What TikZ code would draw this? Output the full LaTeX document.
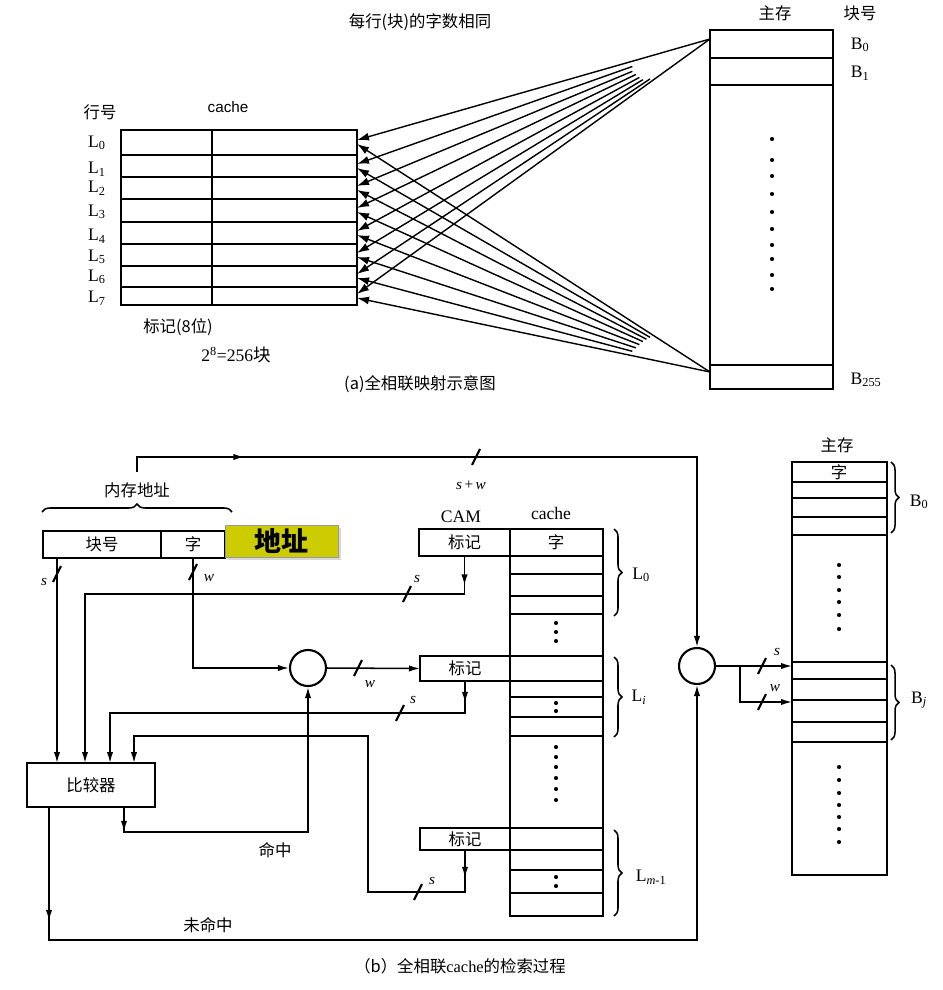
\documentclass[tikz,border=0pt]{standalone}
\usepackage{fontspec}
\setmainfont{Liberation Serif}
\newfontfamily\cjk{Noto Sans CJK SC}
\newfontfamily\sanslat{Liberation Sans}
\usetikzlibrary{arrows.meta,calc,decorations.pathreplacing,decorations.markings,shadows}
\definecolor{addrYellow}{RGB}{204,204,0}

\tikzset{
  sz/.style 2 args={minimum width={#1*0.03cm}, minimum height={#2*0.03cm}},
  frame/.style={draw, line width=2.5pt, inner sep=0pt, outer sep=0pt},
  rowline/.style={line width=2.3pt},
  sig/.style={line width=1.3pt},
  arrowend/.style={-{Latex[length=3.3mm,width=1.9mm]}},
  marr/.style={postaction={decorate}, decoration={markings,
      mark=at position #1 with {\arrow{Latex[length=3.3mm,width=1.9mm]}}}},
  fan/.style={{Latex[length=3.6mm,width=2.4mm]}-, line width=1.2pt},
  busmark/.style={line width=1.8pt},
  zh/.style={font=\cjk\fontsize{14}{16}\selectfont},
  lab/.style={font=\fontsize{15}{17}\selectfont},
  var/.style={font=\itshape\fontsize{13}{15}\selectfont},
  brc/.style={decorate, decoration={brace, amplitude=2.4mm}, line width=1.3pt},
  dot/.style={circle, fill, inner sep=0pt, minimum size=3.5pt},
}

\begin{document}
\begin{tikzpicture}[x=0.03cm, y=-0.03cm]
    \useasboundingbox (0,0) rectangle (942,990);

    % ---------- (a) mapping ----------
    \node[zh] (ttl) at (420,22) {每行(块)的字数相同};
    \node[zh] (hh) at (100,112) {行号};
    \node[font=\sanslat\fontsize{13}{15}\selectfont] (cc) at (228,107) {cache};

    % cache lines
    \node[frame, sz={236}{175}, anchor=north west] (ca) at (121,130) {};
    \foreach \y in {155,177,199,222,244,266,287}
        \draw[rowline] (121,\y) -- (357,\y);
    \draw[rowline] (212,130) -- (212,305);
    \foreach \y [count=\i from 0] in {143,169,188,212,236,257,277,298}
        \node[lab, anchor=west] (lr\i) at (84,\y) {L\textsubscript{\i}};
    \node[zh] (tg) at (178,327) {标记(8位)};
    \node[lab] (nb) at (236,355) {2\textsuperscript{8}=256{\cjk 块}};
    \node[zh] (capa) at (420,384) {(a)全相联映射示意图};

    % main memory
    \node[zh] (mmh) at (775,13) {主存};
    \node[zh] (bnh) at (860,13) {块号};
    \node[frame, sz={123}{359}, anchor=north west] (mma) at (710,30) {};
    \foreach \y in {58,85,365}
        \draw[rowline] (710,\y) -- (833,\y);
    \foreach \y in {139,160,176,194,212,229,245,259,275,289}
        \node[dot] at (772,\y) {};
    \node[lab] (lb0) at (860,45) {B\textsubscript{0}};
    \node[lab] (lb1) at (860,73) {B\textsubscript{1}};
    \node[lab] (lb255) at (866,380) {B\textsubscript{255}};

    % fan of arrows
    \coordinate (b0a) at (710,39);
    \coordinate (b255a) at (710,372);
    \foreach \y [count=\i from 0] in {142,166,188,210,233,255,276,296} {
        \coordinate (ru\i) at (357,\y-2);
        \coordinate (rd\i) at (357,\y+2);
    }
    \foreach \i/\fu/\fd in {0/1/1, 1/.78/.83, 2/.78/.82, 3/.79/.81, 4/.8/.8, 5/.81/.79, 6/.83/.78, 7/1/1} {
        \draw[fan] (ru\i) -- ($(ru\i)!\fu!(b0a)$);
        \draw[fan] (rd\i) -- ($(rd\i)!\fd!(b255a)$);
    }

    % ---------- (b) lookup ----------
    \node[zh] (mah) at (137,490) {内存地址};
    \draw[brc] (42,512) -- (232,512);
    \node[frame, sz={118}{27}, anchor=north west, zh] (blk) at (43,531) {块号};
    \node[frame, sz={64}{27}, anchor=north west, zh] (wrd) at (161,531) {字};
    \node[fill=addrYellow, draw=black!40, sz={113}{32}, anchor=north west, inner sep=0pt,
          drop shadow={shadow xshift=0.07cm, shadow yshift=-0.07cm, fill=black!30},
          font=\cjk\bfseries\fontsize{23}{25}\selectfont] (addr) at (225,525) {地址};

    % CAM and cache
    \node[lab] (camh) at (461,517) {CAM};
    \node[lab] (cch) at (551,513) {cache};
    \node[frame, sz={93}{387}, anchor=north west] (cb) at (510,529) {};
    \foreach \y in {556,574,596,614,656,681,697,717,736,828,850,870,893}
        \draw[rowline] (510,\y) -- (603,\y);
    \node[zh] at (556,542) {字};
    \foreach \y in {623,632,641,703,711,747,757,767,778,789,800,877,886}
        \node[dot] at (556,\y) {};
    \node[frame, sz={91}{27}, anchor=north west, zh] (tag0) at (419,529) {标记};
    \node[frame, sz={90}{25}, anchor=north west, zh] (tagi) at (420,656) {标记};
    \node[frame, sz={90}{22}, anchor=north west, zh] (tagm) at (420,828) {标记};
    \draw[brc] (614,529) -- (614,616);
    \draw[brc] (614,657) -- (614,737);
    \draw[brc] (614,830) -- (614,916);
    \node[lab] (l0) at (641,575) {L\textsubscript{0}};
    \node[lab] (li) at (639,697) {L\textsubscript{\itshape i}};
    \node[lab] (lm) at (651,877) {L\textsubscript{\itshape m\upshape -1}};

    % gates and comparator
    \node[circle, draw, line width=1.8pt, sz={36}{36}, inner sep=0pt] (cir1) at (308,668) {};
    \node[circle, draw, line width=1.8pt, sz={36}{36}, inner sep=0pt] (cir2) at (697,666) {};
    \node[frame, sz={128}{44}, anchor=north west, zh] (cmp) at (27,763) {比较器};

    % main memory (b)
    \node[zh] (mmb h) at (837,445) {主存};
    \node[frame, sz={95}{413}, anchor=north west] (mmb) at (792,462) {};
    \foreach \y in {482,498,517,535,662,679,700,722,742}
        \draw[rowline] (792,\y) -- (887,\y);
    \node[zh] at (839,472) {字};
    \foreach \y in {565,577,590,602,615,629,767,780,793,805,817,829,842}
        \node[dot] at (839,\y) {};
    \draw[brc] (891,462) -- (891,533);
    \draw[brc] (891,665) -- (891,740);
    \node[lab] (bb0) at (919,502) {B\textsubscript{0}};
    \node[lab] (bbj) at (919,700) {B\textsubscript{\itshape j}};

    % connectors
    \coordinate (memtop) at (137,472);
    \coordinate (topc) at (137,457);
    \draw[sig, marr=0.16, arrowend] (memtop) -- (topc) -| (cir2.north);
    \coordinate (sblk) at (57,558);
    \draw[sig, arrowend] (sblk) -- (sblk |- cmp.north);
    \draw[sig, arrowend] (wrd.south) |- (cir1.west);
    \coordinate (k0) at (85,594);
    \draw[sig, marr=0.05, arrowend] (tag0.south) |- (k0) -- (k0 |- cmp.north);
    \coordinate (ki) at (110,713);
    \draw[sig, marr=0.05, arrowend] (tagi.south) |- (ki) -- (ki |- cmp.north);
    \coordinate (km) at (368,892);
    \coordinate (km2) at (134,736);
    \draw[sig, marr=0.05, arrowend] (tagm.south) |- (km) -- (km |- km2) -- (km2) -- (km2 |- cmp.north);
    \draw[sig, arrowend] (cir1.east) -- (tagi.west);
    \coordinate (hit) at (124,832);
    \draw[sig, marr=0.07, arrowend] (hit |- cmp.south) -- (hit) -| (cir1.south);
    \coordinate (miss) at (49,940);
    \draw[sig, marr=0.11, arrowend] (miss |- cmp.south) -- (miss) -| (cir2.south);
    \coordinate (jn) at (740,666);
    \coordinate (wy) at (0,702);
    \draw[sig, arrowend] (cir2.east) -- (cir2.east -| mmb.west);
    \draw[sig, arrowend] (jn) |- (mmb.west |- wy);

    % bus width marks
    \foreach \p in {{476,457},{57,574},{193,572},{407,594},{358,668},{400,713},{418,892},{762,666},{762,702}}
        \draw[busmark] ($(\p)+(-4,8)$) -- ($(\p)+(4,-8)$);
    \node[var] at (471,485) {s\,{\upshape +}\,w};
    \node[var] at (44,582) {s};
    \node[var] at (209,578) {w};
    \node[var] at (417,579) {s};
    \node[var] at (370,684) {w};
    \node[var] at (413,700) {s};
    \node[var] at (432,881) {s};
    \node[var] at (777,652) {s};
    \node[var] at (775,688) {w};

    \node[zh] (hitl) at (275,850) {命中};
    \node[zh] (missl) at (208,925) {未命中};
    \node[zh] (capb) at (460,966) {（b）全相联{\rmfamily cache}的检索过程};
\end{tikzpicture}
\end{document}
